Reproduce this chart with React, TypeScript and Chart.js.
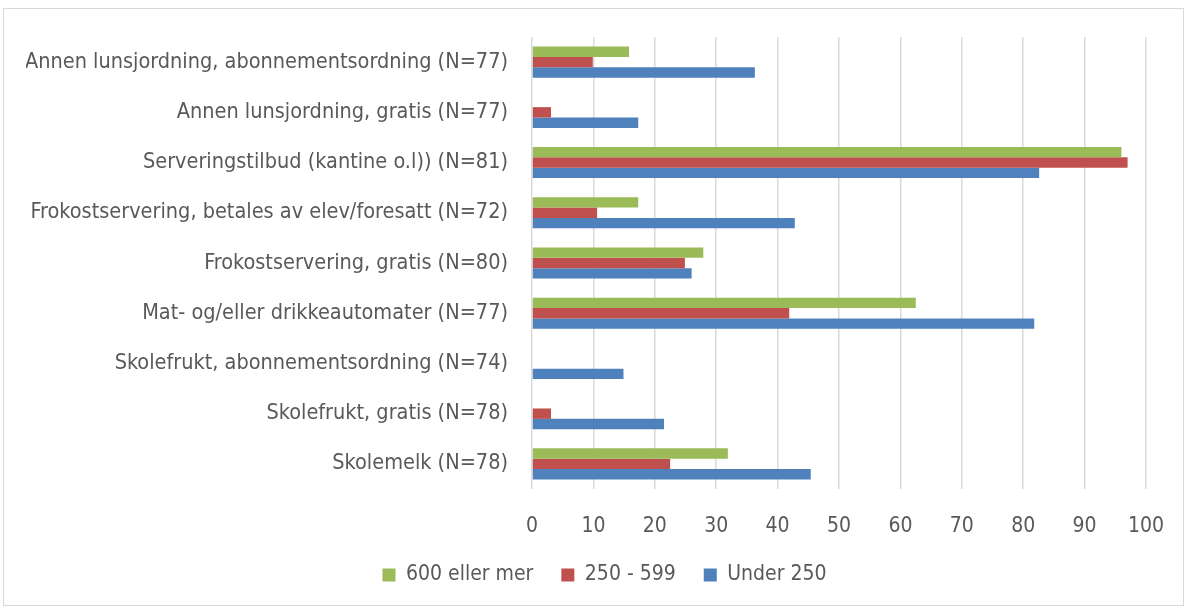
import React, { useEffect, useRef } from "react";
import { Chart, registerables } from "chart.js";

Chart.register(...registerables);

const categories = [
  "Annen lunsjordning, abonnementsordning (N=77)",
  "Annen lunsjordning, gratis (N=77)",
  "Serveringstilbud (kantine o.l)) (N=81)",
  "Frokostservering, betales av elev/foresatt (N=72)",
  "Frokostservering, gratis (N=80)",
  "Mat- og/eller drikkeautomater (N=77)",
  "Skolefrukt, abonnementsordning (N=74)",
  "Skolefrukt, gratis (N=78)",
  "Skolemelk (N=78)",
];

const seriesNames = ["600 eller mer", "250 - 599", "Under 250"];

const large = [15.8, 0, 96.0, 17.3, 27.9, 62.5, 0, 0, 31.9];
const medium = [9.9, 3.1, 97.0, 10.6, 24.9, 41.9, 0, 3.1, 22.5];
const small = [36.3, 17.3, 82.6, 42.8, 26.0, 81.8, 14.9, 21.5, 45.4];

const xTicks = [0, 10, 20, 30, 40, 50, 60, 70, 80, 90, 100];

const colors = ["#9BBB59", "#C0504D", "#4F81BD"];

export default function App() {
  const ref = useRef<HTMLCanvasElement | null>(null);

  useEffect(() => {
    if (!ref.current) return;
    const font = "'Liberation Sans Narrow', 'DejaVu Sans Condensed', sans-serif";
    const chart = new Chart(ref.current, {
      type: "bar",
      data: {
        labels: categories,
        datasets: [large, medium, small].map((d, i) => ({
          label: seriesNames[i],
          data: d,
          backgroundColor: colors[i],
          borderWidth: 0,
          barPercentage: 1,
          categoryPercentage: 0.62,
        })),
      },
      options: {
        indexAxis: "y",
        responsive: false,
        animation: false,
        maintainAspectRatio: false,
        layout: { padding: { left: 22, right: 0, top: 28, bottom: 9.5 } },
        plugins: {
          legend: {
            position: "bottom",
            labels: {
              color: "#595959",
              font: { family: font, size: 21 },
              boxWidth: 13,
              boxHeight: 13,
              padding: 28,
            },
          },
          tooltip: { enabled: false },
        },
        scales: {
          x: {
            min: 0,
            max: 100,
            afterBuildTicks: (axis: any) => {
              axis.ticks = xTicks.map((v) => ({ value: v }));
            },
            afterFit: (s: any) => {
              s.height = 47.5;
              s.paddingLeft = 0;
              s.paddingRight = 37;
            },
            grid: { color: "#d9d9d9", lineWidth: 1.5, drawTicks: false },
            border: { display: false },
            ticks: {
              color: "#595959",
              font: { family: font, size: 21 },
              padding: 25,
              maxRotation: 0,
            },
          },
          y: {
            afterFit: (s: any) => {
              s.width = 506;
              s.paddingTop = 0;
              s.paddingBottom = 0;
            },
            grid: { display: false, drawTicks: false },
            border: { display: false },
            ticks: {
              color: "#595959",
              font: { family: font, size: 21.5 },
              padding: 24,
              autoSkip: false,
            },
          },
        },
      },
    });
    return () => chart.destroy();
  }, []);

  return (
    <div
      style={{
        position: "absolute",
        left: 3,
        top: 8,
        width: 1179,
        height: 596,
        border: "1px solid #d9d9d9",
        background: "#fff",
      }}
    >
      <canvas ref={ref} width={1179} height={596} style={{ display: "block" }} />
    </div>
  );
}
